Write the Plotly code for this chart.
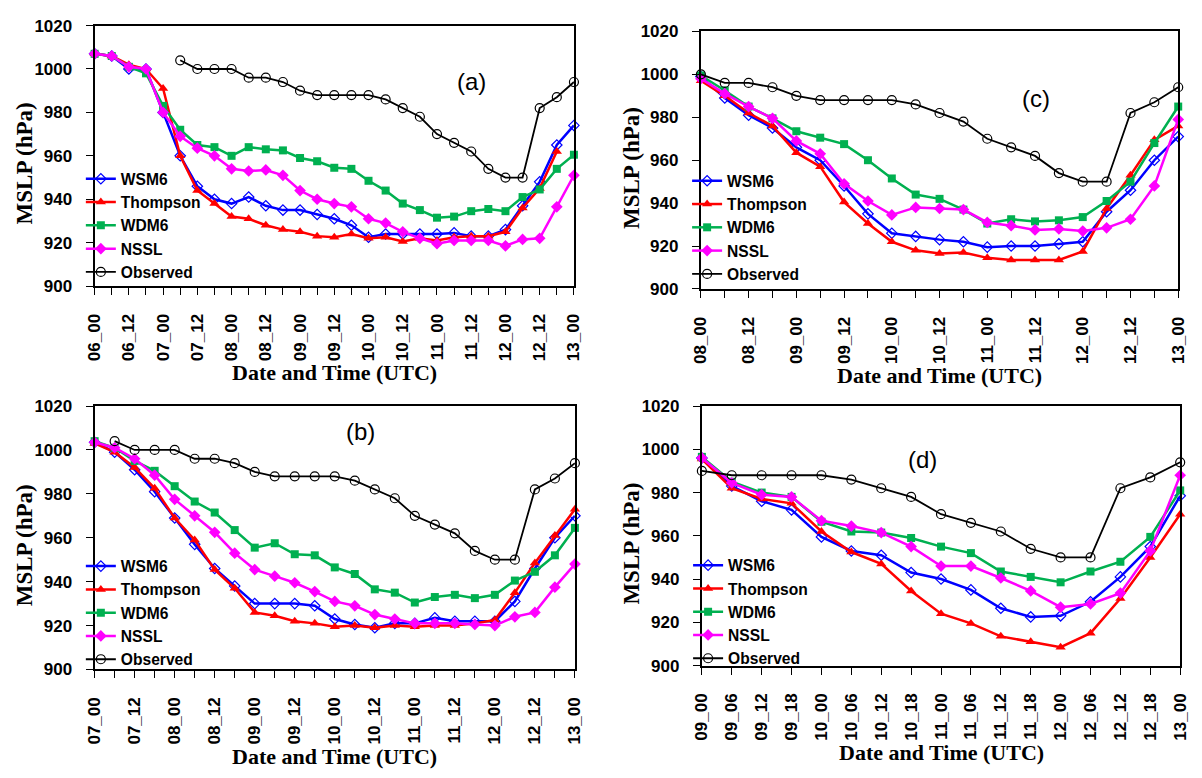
import plotly.graph_objects as go

# ---------------- data ----------------
CATS_A = ["06_00","06_06","06_12","06_18","07_00","07_06","07_12","07_18",
          "08_00","08_06","08_12","08_18","09_00","09_06","09_12","09_18",
          "10_00","10_06","10_12","10_18","11_00","11_06","11_12","11_18",
          "12_00","12_06","12_12","12_18","13_00"]
LABELS_A = ["06_00","06_12","07_00","07_12","08_00","08_12","09_00","09_12",
            "10_00","10_12","11_00","11_12","12_00","12_12","13_00"]
WSM6_A = [1007, 1006, 1000, 1000, 980, 960, 946, 940, 938, 941, 937, 935, 935, 933, 931,
          928, 922.5, 924, 924, 924, 924, 924.5, 923, 923, 926, 937, 948, 965, 974]
THOMP_A = [1007, 1006, 1002, 1000, 991, 960, 944, 938, 932, 931, 928, 926, 925, 923, 922.5,
           924, 922, 922.5, 920.5, 922, 921, 922.5, 923, 923, 925, 936, 945, 962, None]
WDM6_A = [1007, 1006, 1001, 998, 983, 972, 965, 964, 960, 964, 963, 962.5, 959, 957.5, 954.5,
          954, 948.5, 944, 938, 935, 931.5, 932, 934.5, 935.5, 934.5, 941, 944.5, 954, 960.5]
NSSL_A = [1007, 1006, 1001, 1000, 980, 969, 963.5, 960, 954, 953, 953.5, 951, 944, 940, 938,
          936.5, 931, 929, 925, 922, 919.5, 921, 921, 921, 918.5, 921.5, 922, 936.5, 951]
OBS_A = [None, None, None, None, None, 1004, 1000, 1000, 1000, 996, 996, 994, 990, 988, 988,
         988, 988, 986, 982, 978, 970, 966, 962, 954, 950, 950, 982, 987, 994]

CATS_B = ["07_00","07_06","07_12","07_18","08_00","08_06","08_12","08_18",
          "09_00","09_06","09_12","09_18","10_00","10_06","10_12","10_18",
          "11_00","11_06","11_12","11_18","12_00","12_06","12_12","12_18","13_00"]
LABELS_B = ["07_00","07_12","08_00","08_12","09_00","09_12","10_00","10_12",
            "11_00","11_12","12_00","12_12","13_00"]
WSM6_B = [1003.5, 999, 991, 981, 969, 957, 946, 938, 930, 930, 930, 929, 923, 920.5, 919,
          921, 921, 923.5, 922, 922, 922, 931, 946, 960, 970]
THOMP_B = [1003, 999, 992, 982.5, 969, 959, 945.5, 937, 926, 924.5, 922, 921, 919.5, 920, 919,
           920, 919.5, 920, 920, 921, 922.5, 935, 948.5, 961, 973]
WDM6_B = [1004, 1001, 995, 990.5, 983.5, 976.5, 971.5, 963.5, 955.5, 957.5, 952.5, 952, 946.5,
          943.5, 936.5, 935, 930.5, 933, 934, 932.5, 934, 940.5, 944.5, 952, 964.5]
NSSL_B = [1003.5, 1001, 996, 988.5, 977.5, 970, 962.5, 953, 945.5, 942.5, 939.5, 935.5, 931,
          929, 925, 923, 921, 921, 921, 920.5, 920, 924, 926, 937.5, 948]
OBS_B = [None, 1004, 1000, 1000, 1000, 996, 996, 994, 990, 988, 988, 988, 988, 986, 982, 978,
         970, 966, 962, 954, 950, 950, 982, 987, 994]

CATS_C = ["08_00","08_06","08_12","08_18","09_00","09_06","09_12","09_18",
          "10_00","10_06","10_12","10_18","11_00","11_06","11_12","11_18",
          "12_00","12_06","12_12","12_18","13_00"]
LABELS_C = ["08_00","08_12","09_00","09_12","10_00","10_12","11_00","11_12",
            "12_00","12_12","13_00"]
WSM6_C = [999, 989, 981, 975, 966, 960, 948, 935, 926, 924.5, 923, 922, 919.5, 920, 920, 921,
          922, 936, 946, 960, 971]
THOMP_C = [997, 990, 982, 976, 963.5, 957, 940.5, 930.5, 922, 918, 916.5, 917, 914.5, 913.5,
           913.5, 913.5, 917.5, 937.5, 953, 969.5, 976]
WDM6_C = [999.5, 992.5, 985, 979.5, 973.5, 970.5, 967.5, 960, 951.5, 944, 942, 937, 930.5,
          932.5, 931.5, 932, 933.5, 941, 950, 968, 985]
NSSL_C = [998, 991, 985, 979.5, 969, 963, 949, 941, 934.5, 938, 937.5, 937, 931, 929.5, 927.5,
          928, 927, 928.5, 932.5, 948, 979]
OBS_C = [1000, 996, 996, 994, 990, 988, 988, 988, 988, 986, 982, 978, 970, 966, 962, 954, 950,
         950, 982, 987, 994]

CATS_D = ["09_00","09_06","09_12","09_18","10_00","10_06","10_12","10_18",
          "11_00","11_06","11_12","11_18","12_00","12_06","12_12","12_18","13_00"]
LABELS_D = CATS_D
WSM6_D = [996, 983, 976, 972, 959.5, 953, 951, 943, 940, 935, 926.5, 922.5, 923, 929.5, 941,
          955, 978.5]
THOMP_D = [995.5, 982, 977, 975, 962, 952.5, 947, 934.5, 924, 919.5, 913.5, 911, 908.5, 915,
           931, 950, 970]
WDM6_D = [996.5, 985, 980, 978, 966.5, 962, 961.5, 959, 955, 952, 943.5, 941, 938.5, 943.5,
          948, 959.5, 981]
NSSL_D = [996, 984.5, 979, 978, 967, 964.5, 961.5, 955, 946, 946, 940.5, 934.5, 927, 928.5,
          933.5, 953, 988]
OBS_D = [990, 988, 988, 988, 988, 986, 982, 978, 970, 966, 962, 954, 950, 950, 982, 987, 994]

SERIES_NAMES = ["WSM6", "Thompson", "WDM6", "NSSL", "Observed"]
PANEL_TAGS = ["(a)", "(c)", "(b)", "(d)"]

# ---------------- styling ----------------
W, H = 1202, 778
STYLES = {
    "WSM6": dict(color="#0000FF", symbol="diamond-open", size=8, lw=2.5, mlw=1.2),
    "Thompson": dict(color="#FF0000", symbol="triangle-up", size=9, lw=2.5, mlw=0),
    "WDM6": dict(color="#00B050", symbol="square", size=8, lw=2.5, mlw=0),
    "NSSL": dict(color="#FF00FF", symbol="diamond", size=9, lw=2.5, mlw=0),
    "Observed": dict(color="#000000", symbol="circle-open", size=9, lw=1.8, mlw=1.2),
}

# pixel boxes of the four plot areas: left, right, top, bottom
BOXES = [(87, 574, 17, 284), (703, 1188, 23, 287), (87, 575, 407, 677), (704, 1190, 407, 673)]
LEGEND_TOP = [157, 159, 554, 553]
panels = [
    (CATS_A, LABELS_A, [WSM6_A, THOMP_A, WDM6_A, NSSL_A, OBS_A]),
    (CATS_C, LABELS_C, [WSM6_C, THOMP_C, WDM6_C, NSSL_C, OBS_C]),
    (CATS_B, LABELS_B, [WSM6_B, THOMP_B, WDM6_B, NSSL_B, OBS_B]),
    (CATS_D, LABELS_D, [WSM6_D, THOMP_D, WDM6_D, NSSL_D, OBS_D]),
]
TAG_POS = [(470, 74), (1043, 92), (357, 433), (928, 462)]

def px(x):
    return x / W

def py(y):
    return 1 - y / H

fig = go.Figure()
layout = dict(width=W, height=H, margin=dict(l=0, r=0, t=0, b=0),
              paper_bgcolor="white", plot_bgcolor="white", showlegend=True)
annotations = []
TICKFONT = dict(family="Liberation Sans", size=17, color="black", weight="bold")

for i, (cats, labels, series) in enumerate(panels):
    k = "" if i == 0 else str(i + 1)
    xa, ya = "x" + k, "y" + k
    leg = "legend" + k
    for name, vals in zip(SERIES_NAMES, series):
        s = STYLES[name]
        fig.add_trace(go.Scatter(
            x=cats, y=vals, name=name, mode="lines+markers", xaxis=xa, yaxis=ya,
            legend=leg, cliponaxis=False, connectgaps=False,
            line=dict(color=s["color"], width=s["lw"]),
            marker=dict(symbol=s["symbol"], size=s["size"], color=s["color"],
                        line=dict(color=s["color"] if name != "Observed" else "#333333",
                                  width=s["mlw"])),
        ))
    l, r, t, b = BOXES[i]
    axis_common = dict(showline=True, mirror=True, linecolor="black", linewidth=2,
                       ticks="outside", ticklen=7, tickcolor="black", tickwidth=1,
                       showgrid=False, zeroline=False, tickfont=TICKFONT)
    layout["xaxis" + k] = dict(axis_common, domain=[px(l), px(r)], anchor=ya,
                               type="category", range=[0, len(cats) - 1],
                               tickmode="array", tickvals=cats,
                               ticktext=[c if c in labels else "" for c in cats],
                               tickangle=-90, ticklabelstandoff=12)
    layout["yaxis" + k] = dict(axis_common, domain=[py(b), py(t)], anchor=xa,
                               range=[900, 1020], tickmode="linear", tick0=900, dtick=20,
                               ticklabelstandoff=10)
    layout[leg] = dict(x=px(l - 14), y=py(LEGEND_TOP[i]),
                       xanchor="left", yanchor="top", bgcolor="rgba(0,0,0,0)",
                       font=dict(family="Liberation Sans", size=15.6, color="black",
                                 weight="bold"),
                       itemwidth=30, tracegroupgap=0)
    # axis titles
    annotations.append(dict(x=px((l + r) / 2), y=py(b + 89), xref="paper", yref="paper",
                            text="Date and Time (UTC)", showarrow=False,
                            font=dict(family="Liberation Serif", size=22, color="black",
                                      weight="bold"),
                            xanchor="center", yanchor="middle"))
    annotations.append(dict(x=px(l - 71), y=py((t + b) / 2 + 8), xref="paper", yref="paper",
                            text="MSLP (hPa)", showarrow=False, textangle=-90,
                            font=dict(family="Liberation Serif", size=23, color="black",
                                      weight="bold"),
                            xanchor="center", yanchor="middle"))
    tx, ty = TAG_POS[i]
    annotations.append(dict(x=px(tx), y=py(ty), xref="paper", yref="paper",
                            text=PANEL_TAGS[i], showarrow=False,
                            font=dict(family="Liberation Sans", size=24, color="black"),
                            xanchor="center", yanchor="middle"))

layout["annotations"] = annotations
fig.update_layout(**layout)
fig.write_html("out.html")
